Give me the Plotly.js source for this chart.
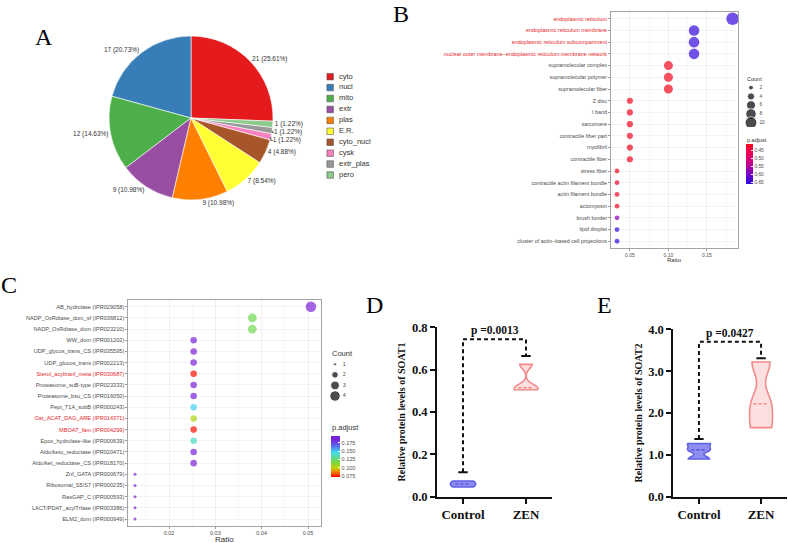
<!DOCTYPE html>
<html>
<head>
<meta charset="utf-8">
<script src="https://cdn.plot.ly/plotly-3.0.1.min.js"></script>
<style>
  html, body { margin: 0; padding: 0; background: #fff; }
  #fig { width: 788px; height: 543px; }
</style>
</head>
<body>
<div id="fig"></div>
<script>
// ---------- A: subcellular localisation ----------
const locLabels = ['cyto', 'nucl', 'mito', 'extr', 'plas', 'E.R.', 'cyto_nucl', 'cysk', 'extr_plas', 'pero'];
const locCounts = [21, 17, 12, 9, 9, 7, 4, 1, 1, 1];
const locColors = ['#E41A1C', '#377EB8', '#4DAF4A', '#984EA3', '#FF7F00', '#FFFF33', '#A65628', '#F781BF', '#999999', '#8CCB8C'];

// ---------- B: GO cellular component enrichment ----------
const goTerms = [
  'endoplasmic reticulum',
  'endoplasmic reticulum membrane',
  'endoplasmic reticulum subcompartment',
  'nuclear outer membrane\u2212endoplasmic reticulum membrane network',
  'supramolecular complex',
  'supramolecular polymer',
  'supramolecular fiber',
  'Z disc',
  'I band',
  'sarcomere',
  'contractile fiber part',
  'myofibril',
  'contractile fiber',
  'stress fiber',
  'contractile actin filament bundle',
  'actin filament bundle',
  'actomyosin',
  'brush border',
  'lipid droplet',
  'cluster of actin\u2212based cell projections'
];
const goCounts = [11, 8, 8, 8, 6, 6, 6, 3, 3, 3, 3, 3, 3, 2, 2, 2, 2, 2, 2, 2];
const goTotal = 60;
const goPadj = [0.655, 0.655, 0.655, 0.655, 0.415, 0.415, 0.415, 0.415, 0.415, 0.415, 0.415, 0.415, 0.415,
                0.42, 0.42, 0.42, 0.42, 0.585, 0.66, 0.66];
const goHighlight = [0, 1, 2, 3];
const goSizeKeys = [2, 4, 6, 8, 10];
const goPTicks = [0.45, 0.50, 0.55, 0.60, 0.65];

// ---------- C: InterPro domain enrichment ----------
const iprTerms = [
  'AB_hydrolase (IPR029058)',
  'NADP_OxRdtase_dom_sf (IPR036812)',
  'NADP_OxRdtase_dom (IPR023210)',
  'WW_dom (IPR001202)',
  'UDP_glycos_trans_CS (IPR035595)',
  'UDP_glucos_trans (IPR002213)',
  'Sterol_acyltranf_meta (IPR030687)',
  'Proteasome_suB-type (IPR023333)',
  'Proteasome_bsu_CS (IPR016050)',
  'Pept_T1A_subB (IPR000243)',
  'Oat_ACAT_DAG_ARE (IPR014371)',
  'MBOAT_fam (IPR004299)',
  'Epox_hydrolase-like (IPR000639)',
  'Aldo/keto_reductase (IPR020471)',
  'Aldo/ket_reductase_CS (IPR018170)',
  'Znf_GATA (IPR000679)',
  'Ribosomal_S5/S7 (IPR000235)',
  'RasGAP_C (IPR000593)',
  'LACT/PDAT_acylTrfase (IPR003386)',
  'ELM2_dom (IPR000949)'
];
const iprCounts = [4, 3, 3, 2, 2, 2, 2, 2, 2, 2, 2, 2, 2, 2, 2, 1, 1, 1, 1, 1];
const iprTotal = 79;
const iprPadj = [0.193, 0.12, 0.12, 0.193, 0.193, 0.193, 0.075, 0.193, 0.193, 0.15, 0.105, 0.075, 0.14, 0.193, 0.193,
                 0.193, 0.193, 0.193, 0.193, 0.193];
const iprHighlight = [6, 10, 11];
const iprSizeKeys = [1, 2, 3, 4];
const iprPTicks = [0.075, 0.100, 0.125, 0.150, 0.175];

// ---------- D / E: relative protein levels ----------
const groups = ['Control', 'ZEN'];
const soat1Control = [0.046, 0.060, 0.074];
const soat1Zen = [0.505, 0.515, 0.625];
const soat2Control = [0.90, 1.12, 1.27];
const soat2Zen = [1.65, 2.22, 3.22];
const soat1P = '0.0013';
const soat2P = '0.0427';

// ---------- page geometry helpers (pixels -> paper fractions) ----------
const W = 788, H = 543;
const px = x => x / W;
const py = y => 1 - y / H;
const domX = (a, b) => [px(a), px(b)];
const domY = (top, bottom) => [py(bottom), py(top)];

const SANS = 'Liberation Sans, Arial, sans-serif';
const SERIF = 'Liberation Serif, Times New Roman, serif';
const TXT = '#4D4D4D';
const HL = '#E3262A';

// area-proportional size scale (like ggplot2 scale_size)
function sizeScale(lo, hi, dmin, dmax) {
  return v => Math.sqrt(dmin * dmin + (v - lo) / (hi - lo) * (dmax * dmax - dmin * dmin));
}
const goSize = sizeScale(2, 11, 4.8, 12.5);
const iprSize = sizeScale(1, 4, 3.0, 10.5);

const median = a => { const s = [...a].sort((p, q) => p - q); const m = Math.floor(s.length / 2); return s.length % 2 ? s[m] : (s[m - 1] + s[m]) / 2; };
const colorTick = (labels, hl) => labels.map((t, i) => hl.includes(i) ? `<span style="color:${HL}">${t}</span>` : t);

const traces = [];

// A: pie
traces.push({
  type: 'pie', labels: locLabels, values: locCounts, sort: false,
  direction: 'counterclockwise', rotation: 0,
  marker: { colors: locColors, line: { color: '#ffffff', width: 0.6 } },
  textposition: 'outside', texttemplate: '%{value} (%{percent:.2%})',
  textfont: { family: SANS, size: 6.5, color: '#333' },
  domain: { x: domX(109, 273), y: domY(36, 200) },
  hoverinfo: 'none', showlegend: false
});
// A: legend keys
traces.push({
  type: 'scatter', mode: 'markers', xaxis: 'x7', yaxis: 'y7',
  x: locLabels.map(() => 0.12), y: locLabels.map((_, i) => i),
  marker: { symbol: 'square', size: 6.5, color: locColors, line: { color: '#555', width: 0.6 } },
  hoverinfo: 'none'
});
traces.push({
  type: 'scatter', mode: 'text', xaxis: 'x7', yaxis: 'y7',
  x: locLabels.map(() => 0.25), y: locLabels.map((_, i) => i),
  text: locLabels, textposition: 'middle right',
  textfont: { family: SANS, size: 7.5, color: '#333' }, hoverinfo: 'none'
});

// B: dot plot
const goScale = [[0, '#2A08E0'], [0.25, '#7A00C8'], [0.5, '#C0008F'], [0.75, '#E8005A'], [1, '#F5081E']];
traces.push({
  type: 'scatter', mode: 'markers', xaxis: 'x', yaxis: 'y',
  x: goCounts.map(c => c / goTotal), y: goTerms,
  marker: {
    size: goCounts.map(goSize), color: goPadj.map(v => -v),
    colorscale: goScale, cmin: -0.6625, cmax: -0.4125, line: { width: 0 },
    showscale: true,
    colorbar: {
      x: px(746), xanchor: 'left', xpad: 0, y: py(144), yanchor: 'top', ypad: 0,
      len: 40, lenmode: 'pixels', thickness: 7, thicknessmode: 'pixels', outlinewidth: 0,
      tickvals: goPTicks.map(v => -v), ticktext: goPTicks.map(v => v.toFixed(2)),
      ticks: 'inside', ticklen: 2, tickcolor: '#fff',
      tickfont: { family: SANS, size: 4.8, color: TXT }
    }
  },
  hoverinfo: 'none'
});
// B: size key
traces.push({
  type: 'scatter', mode: 'markers', xaxis: 'x2', yaxis: 'y2',
  x: goSizeKeys.map(() => 0.25), y: goSizeKeys.map((_, i) => i),
  marker: { size: goSizeKeys.map(goSize), color: '#000' }, hoverinfo: 'none'
});
traces.push({
  type: 'scatter', mode: 'text', xaxis: 'x2', yaxis: 'y2',
  x: goSizeKeys.map(() => 0.55), y: goSizeKeys.map((_, i) => i),
  text: goSizeKeys.map(String), textposition: 'middle right',
  textfont: { family: SANS, size: 4.8, color: TXT }, hoverinfo: 'none'
});

// C: dot plot
const iprScale = [[0, '#FF0000'], [0.1, '#FF6A00'], [0.22, '#C0D400'], [0.38, '#70D850'],
                  [0.6, '#40DDF0'], [0.78, '#5A60F0'], [0.9, '#7428D8'], [1, '#7F1FD8']];
traces.push({
  type: 'scatter', mode: 'markers', xaxis: 'x3', yaxis: 'y3',
  x: iprCounts.map(c => c / iprTotal), y: iprTerms,
  marker: {
    size: iprCounts.map(iprSize), color: iprPadj,
    colorscale: iprScale, cmin: 0.073, cmax: 0.197, line: { width: 0 },
    showscale: true,
    colorbar: {
      x: px(331), xanchor: 'left', xpad: 0, y: py(435.7), yanchor: 'top', ypad: 0,
      len: 41, lenmode: 'pixels', thickness: 9, thicknessmode: 'pixels', outlinewidth: 0,
      tickvals: iprPTicks, ticktext: iprPTicks.map(v => v.toFixed(3)),
      ticks: 'inside', ticklen: 2, tickcolor: '#fff',
      tickfont: { family: SANS, size: 5.5, color: TXT }
    }
  },
  hoverinfo: 'none'
});
// C: size key
traces.push({
  type: 'scatter', mode: 'markers', xaxis: 'x4', yaxis: 'y4',
  x: iprSizeKeys.map(() => 0.26), y: iprSizeKeys.map((_, i) => i),
  marker: { size: iprSizeKeys.map(iprSize), color: '#000' }, hoverinfo: 'none'
});
traces.push({
  type: 'scatter', mode: 'text', xaxis: 'x4', yaxis: 'y4',
  x: iprSizeKeys.map(() => 0.55), y: iprSizeKeys.map((_, i) => i),
  text: iprSizeKeys.map(String), textposition: 'middle right',
  textfont: { family: SANS, size: 5.5, color: TXT }, hoverinfo: 'none'
});

// D / E: violins with dashed medians
const CTRL = { line: '#6262E6', fill: '#8E8EF2', med: '#4545C8' };
const ZEN = { line: '#F28A8A', fill: '#FDDFDF', med: '#EE7A7A' };
function violin(vals, pos, col, bw, wid, xa, ya) {
  traces.push({
    type: 'violin', x0: pos, y: vals, xaxis: xa, yaxis: ya, name: groups[pos],
    width: wid, side: 'both', spanmode: 'hard', bandwidth: bw, points: false,
    box: { visible: false }, meanline: { visible: false },
    line: { color: col.line, width: 1.6 }, fillcolor: col.fill, hoverinfo: 'none'
  });
  const m = median(vals);
  traces.push({
    type: 'scatter', mode: 'lines', xaxis: xa, yaxis: ya,
    x: [pos - 0.12, pos + 0.12], y: [m, m],
    line: { color: col.med, width: 1.2, dash: '3px,2px' }, hoverinfo: 'none'
  });
}
violin(soat1Control, 0, CTRL, 0.010, 0.40, 'x5', 'y5');
violin(soat1Zen, 1, ZEN, 0.02, 0.38, 'x5', 'y5');
violin(soat2Control, 0, CTRL, 0.065, 0.37, 'x6', 'y6');
violin(soat2Zen, 1, ZEN, 0.30, 0.37, 'x6', 'y6');

// significance brackets: [left end, right end, top]
const brackets = [
  { xa: 'x5', ya: 'y5', ends: [0.115, 0.664], top: 0.743, p: soat1P },
  { xa: 'x6', ya: 'y6', ends: [1.38, 3.31], top: 3.70, p: soat2P }
];
const shapes = [];
const annotations = [];
brackets.forEach(b => {
  const xr = b.xa, yr = b.ya;
  shapes.push({ type: 'path', xref: xr, yref: yr,
    path: `M0,${b.ends[0]} L0,${b.top} L1,${b.top} L1,${b.ends[1]}`,
    line: { color: '#111', width: 2, dash: '4px,3px' } });
  [0, 1].forEach(i => shapes.push({ type: 'line', xref: xr, yref: yr,
    x0: i - 0.075, x1: i + 0.075, y0: b.ends[i], y1: b.ends[i],
    line: { color: '#111', width: 2 } }));
  annotations.push({ xref: xr, yref: yr, x: 0.5, y: b.top, yanchor: 'bottom', yshift: 0,
    text: 'p =' + b.p, showarrow: false,
    font: { family: SERIF, size: 11.5, color: '#111', weight: 'bold' } });
});

// panel letters
[['A', 44, 37], ['B', 401, 14], ['C', 9, 285], ['D', 374, 305], ['E', 604, 305]].forEach(([t, x, y]) => {
  annotations.push({ xref: 'paper', yref: 'paper', x: px(x), y: py(y), xanchor: 'center', yanchor: 'middle',
    text: t, showarrow: false, font: { family: SERIF, size: 24, color: '#000' } });
});
// legend titles and axis titles of the dot plots
const note = (x, y, text, size, xanchor) => annotations.push({ xref: 'paper', yref: 'paper', x: px(x), y: py(y),
  xanchor: xanchor || 'left', yanchor: 'middle', text: text, showarrow: false,
  font: { family: SANS, size: size, color: '#333' } });
note(745, 79, 'Count', 5.5);
note(745, 140, 'p.adjust', 5.5);
note(330, 353, 'Count', 7.5);
note(330, 427, 'p.adjust', 7.5);
note(674.5, 260, 'Ratio', 6, 'center');
note(224.5, 539.5, 'Ratio', 8, 'center');

const hidden = () => ({ visible: false, fixedrange: true });

function dotX(dom, range, tickvals, minorDt, fs) {
  return {
    domain: dom, range: range, tickvals: tickvals, tickformat: '.2f',
    showgrid: true, gridcolor: '#EBEBEB', gridwidth: 0.6,
    minor: { dtick: minorDt, showgrid: true, gridcolor: '#F4F4F4', gridwidth: 0.5, ticks: '' },
    ticks: 'outside', ticklen: 2, tickcolor: '#555', tickwidth: 0.6,
    tickfont: { family: SANS, size: fs, color: TXT },
    showline: true, mirror: true, linecolor: '#9A9A9A', linewidth: 0.9, zeroline: false,
    fixedrange: true
  };
}
function dotY(dom, cats, hl, fs) {
  return {
    domain: dom, type: 'category', categoryarray: cats, range: [cats.length - 0.4, -0.6],
    tickvals: cats, ticktext: colorTick(cats, hl),
    showgrid: true, gridcolor: '#EBEBEB', gridwidth: 0.6,
    ticks: 'outside', ticklen: 2, tickcolor: '#555', tickwidth: 0.6,
    tickfont: { family: SANS, size: fs, color: TXT },
    showline: true, mirror: true, linecolor: '#9A9A9A', linewidth: 0.9, zeroline: false,
    fixedrange: true
  };
}
function barX(dom) {
  return {
    domain: dom, range: [-0.413, 1.413], tickvals: [0, 1], ticktext: groups,
    showgrid: false, zeroline: false, showline: true, linecolor: '#111', linewidth: 2,
    ticks: 'outside', ticklen: 5, tickwidth: 2, tickcolor: '#111',
    tickfont: { family: SERIF, size: 13, color: '#111', weight: 'bold' }, fixedrange: true
  };
}
function barY(dom, range, dtick, title) {
  return {
    domain: dom, range: range, dtick: dtick, tickformat: '.1f',
    showgrid: false, zeroline: false, showline: true, linecolor: '#111', linewidth: 2,
    ticks: 'outside', ticklen: 5, tickwidth: 2, tickcolor: '#111',
    tickfont: { family: SERIF, size: 12.5, color: '#111', weight: 'bold' },
    title: { text: title, font: { family: SERIF, size: 10, color: '#111', weight: 'bold' }, standoff: 4 },
    fixedrange: true
  };
}

const layout = {
  width: W, height: H, margin: { l: 0, r: 0, t: 0, b: 0 },
  paper_bgcolor: '#fff', plot_bgcolor: 'rgba(0,0,0,0)', showlegend: false,
  font: { family: SANS, color: '#333' },
  // B
  xaxis: Object.assign(dotX(domX(611, 738), [0.0255, 0.1904], [0.05, 0.10, 0.15], 0.025, 5), { anchor: 'y' }),
  yaxis: Object.assign(dotY(domY(11.7, 248.3), goTerms, goHighlight, 5.4), { anchor: 'x' }),
  xaxis2: Object.assign(hidden(), { domain: domX(744, 772), range: [0, 1], anchor: 'y2' }),
  yaxis2: Object.assign(hidden(), { domain: domY(83.3, 127.1), range: [4.5, -0.5], anchor: 'x2' }),
  // C
  xaxis3: Object.assign(dotX(domX(128.3, 320.7), [0.01121, 0.05274], [0.02, 0.03, 0.04, 0.05], 0.005, 5.5), { anchor: 'y3' }),
  yaxis3: Object.assign(dotY(domY(300, 525.7), iprTerms, iprHighlight, 5.6), { anchor: 'x3' }),
  xaxis4: Object.assign(hidden(), { domain: domX(328, 355), range: [0, 1], anchor: 'y4' }),
  yaxis4: Object.assign(hidden(), { domain: domY(359, 401.3), range: [3.5, -0.5], anchor: 'x4' }),
  // D
  xaxis5: Object.assign(barX(domX(437, 552)), { anchor: 'y5' }),
  yaxis5: Object.assign(barY(domY(327.3, 496.7), [0, 0.8], 0.2, 'Relative protein levels of SOAT1'), { anchor: 'x5' }),
  // E
  xaxis6: Object.assign(barX(domX(673.3, 786.7)), { anchor: 'y6' }),
  yaxis6: Object.assign(barY(domY(329.3, 496.7), [0, 4], 1, 'Relative protein levels of SOAT2'), { anchor: 'x6' }),
  // A legend
  xaxis7: Object.assign(hidden(), { domain: domX(322, 390), range: [0, 1], anchor: 'y7' }),
  yaxis7: Object.assign(hidden(), { domain: domY(71.2, 180.5), range: [9.5, -0.5], anchor: 'x7' }),
  shapes: shapes,
  annotations: annotations
};

Plotly.newPlot('fig', traces, layout, { staticPlot: true, displayModeBar: false });
</script>
</body>
</html>
